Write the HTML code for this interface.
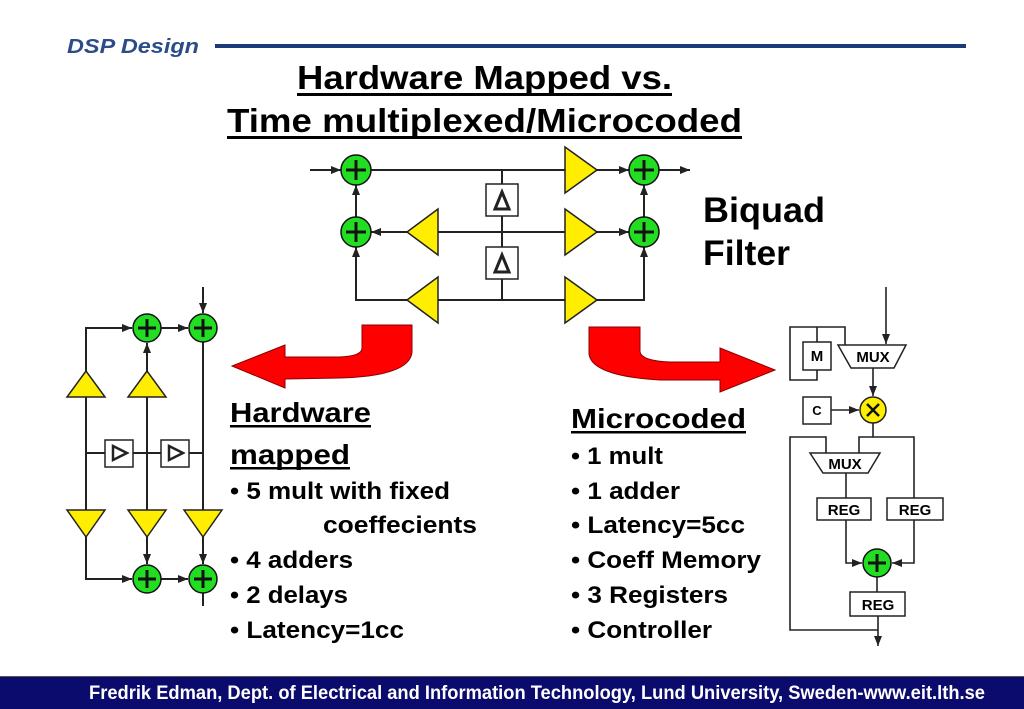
<!DOCTYPE html>
<html><head><meta charset="utf-8"><style>
html,body{margin:0;padding:0;background:#fff;width:1024px;height:709px;overflow:hidden}
svg{display:block}
text{font-family:"Liberation Sans",Arial,sans-serif;font-weight:bold}
</style></head><body>
<svg width="1024" height="709" viewBox="0 0 1024 709" xmlns="http://www.w3.org/2000/svg">
<defs>
<marker id="a" viewBox="0 0 10 10" refX="10" refY="5" markerWidth="10" markerHeight="10" markerUnits="userSpaceOnUse" orient="auto"><path d="M0,1 L10,5 L0,9 Z" fill="#222"/></marker>
<g id="add"><circle r="15" fill="#22dd22" stroke="#111" stroke-width="1.5"/><path d="M-10,0H10M0,-10V10" stroke="#111" stroke-width="3"/></g>
<g id="adds"><circle r="14" fill="#22dd22" stroke="#111" stroke-width="1.5"/><path d="M-9,0H9M0,-9V9" stroke="#111" stroke-width="3"/></g>
</defs>
<!-- header -->
<text x="67" y="53" font-size="20" font-style="italic" fill="#2a4d8a" textLength="132" lengthAdjust="spacingAndGlyphs">DSP Design</text>
<rect x="215" y="44" width="751" height="4" fill="#1a3a7a"/>
<text x="297" y="89" font-size="33" fill="#000" textLength="375" lengthAdjust="spacingAndGlyphs">Hardware Mapped vs.</text>
<rect x="297" y="93" width="375" height="3" fill="#000"/>
<text x="227" y="132" font-size="33" fill="#000" textLength="515" lengthAdjust="spacingAndGlyphs">Time multiplexed/Microcoded</text>
<rect x="227" y="136" width="515" height="3" fill="#000"/>
<text x="703" y="222" font-size="35" fill="#000" textLength="122" lengthAdjust="spacingAndGlyphs">Biquad</text>
<text x="703" y="265" font-size="35" fill="#000" textLength="87" lengthAdjust="spacingAndGlyphs">Filter</text>

<!-- biquad -->
<g stroke="#222" stroke-width="2" fill="none">
<line x1="310" y1="170" x2="341" y2="170" marker-end="url(#a)"/>
<line x1="371" y1="170" x2="565" y2="170"/>
<line x1="597" y1="170" x2="629" y2="170" marker-end="url(#a)"/>
<line x1="659" y1="170" x2="690" y2="170" marker-end="url(#a)"/>
<line x1="502" y1="170" x2="502" y2="300"/>
<line x1="407" y1="232" x2="371" y2="232" marker-end="url(#a)"/>
<line x1="438" y1="232" x2="565" y2="232"/>
<line x1="597" y1="232" x2="629" y2="232" marker-end="url(#a)"/>
<polyline points="407,300 356,300 356,247" marker-end="url(#a)"/>
<line x1="356" y1="217" x2="356" y2="185" marker-end="url(#a)"/>
<line x1="438" y1="300" x2="565" y2="300"/>
<polyline points="597,300 644,300 644,247" marker-end="url(#a)"/>
<line x1="644" y1="217" x2="644" y2="185" marker-end="url(#a)"/>
</g>
<g fill="#ffee00" stroke="#222" stroke-width="1.5">
<polygon points="565,147 597,170 565,193"/>
<polygon points="565,209 597,232 565,255"/>
<polygon points="565,277 597,300 565,323"/>
<polygon points="438,209 407,232 438,255"/>
<polygon points="438,277 407,300 438,323"/>
</g>
<g fill="#fff" stroke="#222" stroke-width="1.5">
<rect x="486" y="184" width="32" height="32"/>
<rect x="486" y="247" width="32" height="32"/>
</g>
<g fill="none" stroke="#222" stroke-width="3">
<polygon points="502,192 495,209 509,209"/>
<polygon points="502,255 495,272 509,272"/>
</g>
<use href="#add" x="356" y="170"/><use href="#add" x="644" y="170"/>
<use href="#add" x="356" y="232"/><use href="#add" x="644" y="232"/>

<!-- red arrows -->
<path d="M362,325 L412,325 L412,352 Q410,376 340,378 L285,379 L285,388 L232,366 L285,345 L285,357 L340,357 Q362,356 362,348 Z" fill="#ff0000" stroke="#8a0000" stroke-width="1"/>
<path d="M589,327 L640,327 L640,352 Q642,361 670,362 L720,362 L720,348 L775,370 L720,392 L720,380 L660,380 Q592,376 589,354 Z" fill="#ff0000" stroke="#8a0000" stroke-width="1"/>

<!-- left diagram -->
<g stroke="#222" stroke-width="2" fill="none">
<line x1="203" y1="287" x2="203" y2="313" marker-end="url(#a)"/>
<polyline points="86,371 86,328 132,328" marker-end="url(#a)"/>
<line x1="161" y1="328" x2="188" y2="328" marker-end="url(#a)"/>
<line x1="147" y1="371" x2="147" y2="343" marker-end="url(#a)"/>
<line x1="86" y1="397" x2="86" y2="510"/>
<line x1="147" y1="397" x2="147" y2="510"/>
<line x1="203" y1="342" x2="203" y2="510"/>
<line x1="86" y1="453" x2="203" y2="453"/>
<polyline points="86,537 86,579 132,579" marker-end="url(#a)"/>
<line x1="147" y1="537" x2="147" y2="564" marker-end="url(#a)"/>
<line x1="203" y1="537" x2="203" y2="564" marker-end="url(#a)"/>
<line x1="161" y1="579" x2="188" y2="579" marker-end="url(#a)"/>
<line x1="203" y1="593" x2="203" y2="606"/>
</g>
<g fill="#ffee00" stroke="#222" stroke-width="1.5">
<polygon points="86,371 67,397 105,397"/>
<polygon points="147,371 128,397 166,397"/>
<polygon points="67,510 105,510 86,537"/>
<polygon points="128,510 166,510 147,537"/>
<polygon points="184,510 222,510 203,537"/>
</g>
<g fill="#fff" stroke="#222" stroke-width="1.5">
<rect x="105" y="440" width="28" height="27"/>
<rect x="161" y="440" width="28" height="27"/>
</g>
<g fill="none" stroke="#222" stroke-width="2.5">
<polygon points="113,446 127,453 113,460"/>
<polygon points="169,446 183,453 169,460"/>
</g>
<use href="#adds" x="147" y="328"/><use href="#adds" x="203" y="328"/>
<use href="#adds" x="147" y="579"/><use href="#adds" x="203" y="579"/>

<!-- text blocks -->
<g fill="#000" lengthAdjust="spacingAndGlyphs">
<text x="230" y="422" font-size="28" textLength="141" lengthAdjust="spacingAndGlyphs">Hardware</text>
<text x="230" y="464" font-size="28" textLength="120" lengthAdjust="spacingAndGlyphs">mapped</text>
<rect x="230" y="425" width="141" height="2.5"/>
<rect x="230" y="467" width="120" height="2.5"/>
<g font-size="24">
<text x="230" y="499" textLength="220" lengthAdjust="spacingAndGlyphs">• 5 mult with fixed</text>
<text x="323" y="533" textLength="154" lengthAdjust="spacingAndGlyphs">coeffecients</text>
<text x="230" y="568" textLength="123" lengthAdjust="spacingAndGlyphs">• 4 adders</text>
<text x="230" y="603" textLength="118" lengthAdjust="spacingAndGlyphs">• 2 delays</text>
<text x="230" y="638" textLength="174" lengthAdjust="spacingAndGlyphs">• Latency=1cc</text>
</g>
<text x="571" y="428" font-size="28" textLength="175" lengthAdjust="spacingAndGlyphs">Microcoded</text>
<rect x="571" y="431" width="175" height="2.5"/>
<g font-size="24">
<text x="571" y="464" textLength="92" lengthAdjust="spacingAndGlyphs">• 1 mult</text>
<text x="571" y="499" textLength="109" lengthAdjust="spacingAndGlyphs">• 1 adder</text>
<text x="571" y="533" textLength="174" lengthAdjust="spacingAndGlyphs">• Latency=5cc</text>
<text x="571" y="568" textLength="190" lengthAdjust="spacingAndGlyphs">• Coeff Memory</text>
<text x="571" y="603" textLength="157" lengthAdjust="spacingAndGlyphs">• 3 Registers</text>
<text x="571" y="638" textLength="141" lengthAdjust="spacingAndGlyphs">• Controller</text>
</g>
</g>

<!-- right diagram -->
<g stroke="#222" stroke-width="1.6" fill="none">
<polyline points="845,345 845,327 790,327 790,380 817,380 817,370"/>
<line x1="817" y1="327" x2="817" y2="342"/>
<line x1="886" y1="287" x2="886" y2="344" marker-end="url(#a)"/>
<line x1="873" y1="368" x2="873" y2="396" marker-end="url(#a)"/>
<line x1="831" y1="410" x2="859" y2="410" marker-end="url(#a)"/>
<polyline points="873,423 873,437 914,437 914,498"/>
<polyline points="859,453 859,437 873,437"/>
<polyline points="826,453 826,437 790,437 790,630 878,630"/>
<line x1="846" y1="473" x2="846" y2="498"/>
<polyline points="846,520 846,563 862,563" marker-end="url(#a)"/>
<polyline points="914,520 914,563 892,563" marker-end="url(#a)"/>
<line x1="877" y1="577" x2="877" y2="592"/>
<line x1="878" y1="616" x2="878" y2="646" marker-end="url(#a)"/>
</g>
<g fill="#fff" stroke="#222" stroke-width="1.5">
<rect x="803" y="342" width="28" height="28"/>
<rect x="803" y="397" width="28" height="27"/>
<polygon points="838,345 906,345 894,368 851,368"/>
<polygon points="810,453 880,453 868,473 823,473"/>
<rect x="817" y="498" width="54" height="22"/>
<rect x="887" y="498" width="56" height="22"/>
<rect x="850" y="592" width="55" height="24"/>
</g>
<circle cx="873" cy="410" r="13" fill="#ffee00" stroke="#222" stroke-width="1.5"/>
<path d="M867,404 L879,416 M879,404 L867,416" stroke="#111" stroke-width="2.5"/>
<use href="#adds" x="877" y="563"/>
<g fill="#000" font-size="15" text-anchor="middle">
<text x="817" y="361">M</text>
<text x="817" y="415" font-size="13">C</text>
<text x="873" y="362">MUX</text>
<text x="845" y="469">MUX</text>
<text x="844" y="515">REG</text>
<text x="915" y="515">REG</text>
<text x="878" y="610">REG</text>
</g>

<!-- footer -->
<rect x="0" y="676" width="1024" height="33" fill="#0b0b6e"/>
<rect x="0" y="676" width="1024" height="1" fill="#555"/>
<text x="89" y="699" font-size="19" fill="#fff" textLength="896" lengthAdjust="spacingAndGlyphs">Fredrik Edman, Dept. of Electrical and Information Technology, Lund University, Sweden-www.eit.lth.se</text>
</svg>
</body></html>
